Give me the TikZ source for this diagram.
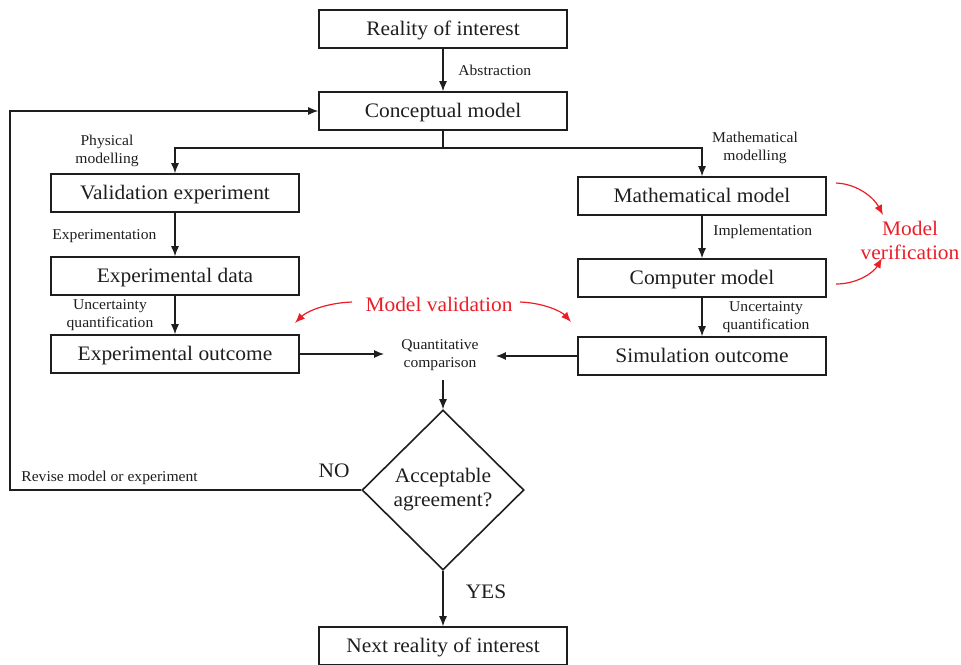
\documentclass[tikz,border=0pt]{standalone}
\usepackage{fontspec}
\setmainfont{Liberation Serif}[FakeStretch=1.04]
\usetikzlibrary{shapes.geometric,arrows.meta}
\definecolor{vred}{RGB}{235,30,40}
\definecolor{ink}{RGB}{30,30,30}
\tikzset{
  box/.style={draw=ink,line width=0.8pt,minimum width=124pt,minimum height=19pt,inner sep=0pt,font=\fontsize{10.3}{12}\selectfont,text=ink,text depth=0.5pt},
  arr/.style={draw=ink,line width=0.6pt,-{Latex[length=5pt,width=4pt]}},
  lab/.style={font=\fontsize{7.5}{8.8}\selectfont,text=ink,align=center,inner sep=0pt},
  big/.style={font=\fontsize{10.3}{12}\selectfont,text=ink,align=center,inner sep=0pt},
  redlab/.style={font=\fontsize{10.3}{12}\selectfont,text=vred,align=center,inner sep=0pt},
  redarr/.style={draw=vred,line width=0.6pt,-{Latex[length=5pt,width=4pt]}},
}
\begin{document}
\begin{tikzpicture}[x=0.5pt,y=-0.5pt]
\useasboundingbox (0,0) rectangle (961,664);
% boxes
\node[box] (roi) at (443,29) {Reality of interest};
\node[box] (concept) at (443,111) {Conceptual model};
\node[box] (valexp) at (175,193) {Validation experiment};
\node[box] (expdata) at (175,276) {Experimental data};
\node[box] (expout) at (175,354) {Experimental outcome};
\node[box] (math) at (702,196) {Mathematical model};
\node[box] (comp) at (702,278) {Computer model};
\node[box] (sim) at (702,356) {Simulation outcome};
\node[box] (next) at (443,646) {Next reality of interest};
\node[draw=ink,line width=0.8pt,shape=diamond,aspect=1,minimum width=81pt,minimum height=80pt,inner sep=0pt,big] (dia) at (443,490) {Acceptable\\agreement?};
\node[lab,inner xsep=8.5pt,inner ysep=4.5pt] (qc) at (440,355) {Quantitative\\comparison};
% connectors
\draw[arr] (roi) -- (concept);
\coordinate (split) at (443,148);
\draw[arr] (concept.south) -- (split) -| (valexp.north);
\draw[arr] (split) -| (math.north);
\draw[arr] (valexp) -- (expdata);
\draw[arr] (expdata) -- (expout);
\draw[arr] (math) -- (comp);
\draw[arr] (comp) -- (sim);
\draw[arr] (expout.east) -- (expout.east -| qc.west);
\draw[arr] (sim.west) -- (sim.west -| qc.east);
\draw[arr] (qc.south -| dia.north) -- (dia.north);
\coordinate (loop) at (10,490);
\draw[arr] (dia.west) -- (loop) |- (concept.west);
\draw[arr] (dia.south) -- (next.north);
% labels
\node[lab,anchor=west] (labs) at (458,70) {Abstraction};
\node[lab] (lphys) at (107,151) {Physical\\modelling};
\node[lab] (lmath) at (755,148) {Mathematical\\modelling};
\node[lab,anchor=west] (lexp) at (52,236) {Experimentation};
\node[lab] (luq1) at (110,315) {Uncertainty\\quantification};
\node[lab,anchor=west] (limp) at (713,232) {Implementation};
\node[lab] (luq2) at (766,317) {Uncertainty\\quantification};
\node[lab,anchor=west] (lrev) at (21,478) {Revise model or experiment};
\node[big] (lno) at (334,471) {NO};
\node[big] (lyes) at (486,592) {YES};
% red annotations
\node[redlab] (mval) at (439,304) {Model validation};
\node[redlab] (mver) at (910,240) {Model\\verification};
\coordinate (v1s) at (352,302);
\coordinate (v1e) at (295,323);
\coordinate (v2s) at (520,302);
\coordinate (v2e) at (571,322);
\coordinate (m1s) at (836,183);
\coordinate (m1e) at (883,215);
\coordinate (m2s) at (836,284);
\coordinate (m2e) at (882,258);
\draw[redarr] (v1s) .. controls (325,303) and (306,312) .. (v1e);
\draw[redarr] (v2s) .. controls (545,303) and (562,312) .. (v2e);
\draw[redarr] (m1s) .. controls (858,184) and (874,198) .. (m1e);
\draw[redarr] (m2s) .. controls (858,284) and (874,272) .. (m2e);
\end{tikzpicture}
\end{document}
